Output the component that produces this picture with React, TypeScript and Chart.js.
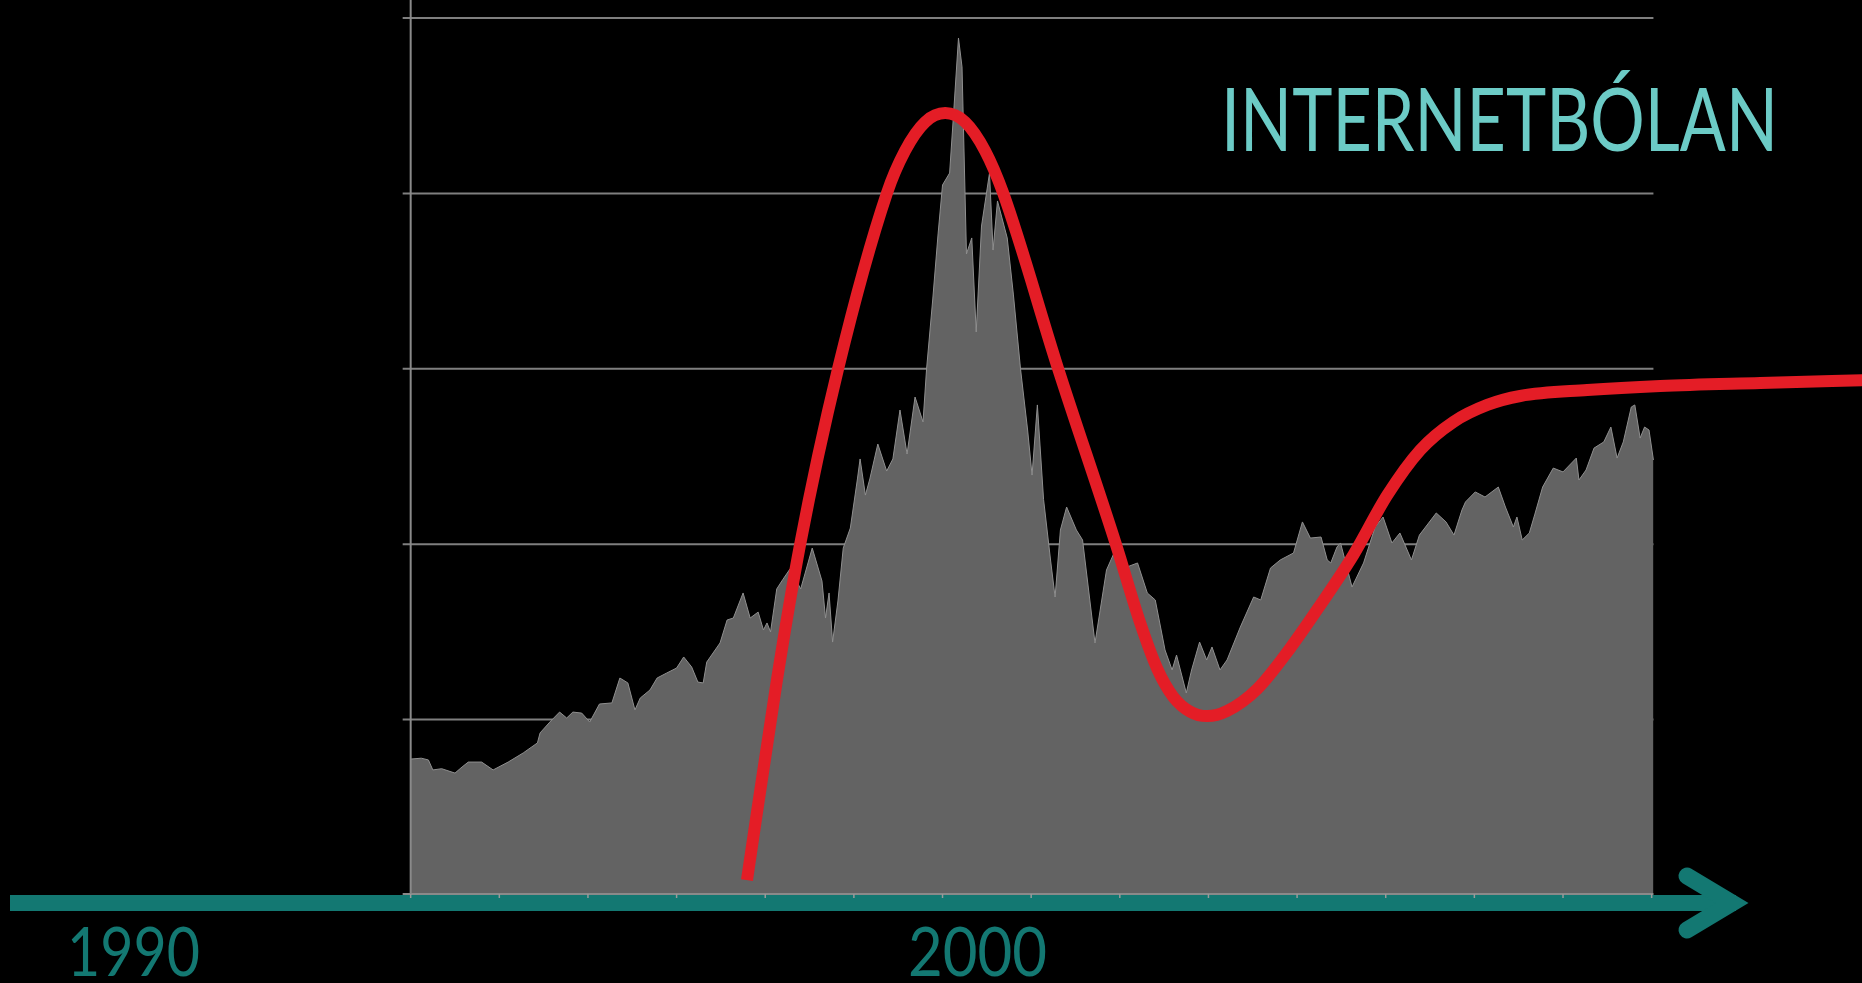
import React, { useEffect, useRef } from "react";
import { Chart, registerables } from "chart.js";

Chart.register(...registerables);

// NASDAQ-like index (decimal year, index value)
const nasdaqYears = [
  1994.0, 1994.12, 1994.2, 1994.25, 1994.35, 1994.5, 1994.58, 1994.65, 1994.8, 1994.93,
  1995.1, 1995.27, 1995.43, 1995.46, 1995.57, 1995.68, 1995.76, 1995.83, 1995.93,
  1996.02, 1996.13, 1996.27, 1996.36, 1996.45, 1996.53, 1996.59, 1996.7, 1996.78, 1996.89,
  1997.0, 1997.08, 1997.17, 1997.24, 1997.3, 1997.34, 1997.49, 1997.57, 1997.64, 1997.75,
  1997.83, 1997.92, 1997.98, 1998.02, 1998.06, 1998.13, 1998.2, 1998.28, 1998.4, 1998.53,
  1998.64, 1998.68, 1998.72, 1998.76, 1998.82, 1998.88, 1998.96,
  1999.04, 1999.07, 1999.13, 1999.18, 1999.27, 1999.37, 1999.44, 1999.52, 1999.6, 1999.69,
  1999.78, 1999.82, 1999.89, 1999.95,
  2000.0, 2000.08, 2000.12, 2000.18, 2000.22, 2000.27, 2000.33, 2000.38, 2000.44, 2000.53,
  2000.57, 2000.62, 2000.73, 2000.8, 2000.88, 2000.96,
  2001.01, 2001.07, 2001.14, 2001.22, 2001.27, 2001.33, 2001.4, 2001.51, 2001.58, 2001.72,
  2001.85, 2002.0, 2002.08, 2002.2, 2002.31, 2002.4, 2002.51, 2002.59, 2002.64, 2002.75,
  2002.81, 2002.9, 2002.98, 2003.04, 2003.13, 2003.21, 2003.36, 2003.51, 2003.59, 2003.7,
  2003.81, 2003.96, 2004.06, 2004.15, 2004.27, 2004.34, 2004.38, 2004.45, 2004.49, 2004.62,
  2004.75, 2004.88, 2004.97, 2005.07, 2005.16, 2005.29, 2005.38, 2005.57, 2005.68, 2005.77,
  2005.86, 2005.9, 2006.01, 2006.12, 2006.27, 2006.35, 2006.44, 2006.48, 2006.54, 2006.62,
  2006.68, 2006.77, 2006.89, 2007.0, 2007.15, 2007.18, 2007.26, 2007.35, 2007.46, 2007.54,
  2007.61, 2007.68, 2007.77, 2007.81, 2007.87, 2007.92, 2007.97, 2008.02,
];
const nasdaqValues = [
  775, 780, 770, 713, 720, 695, 730, 758, 758, 713,
  758, 810, 867, 924, 986, 1043, 1009, 1043, 1037,
  986, 1089, 1095, 1237, 1209, 1055, 1123, 1169, 1237, 1266,
  1294, 1357, 1300, 1214, 1209, 1328, 1437, 1568, 1579, 1722,
  1579, 1613, 1511, 1551, 1500, 1745, 1800, 1859, 1745, 1978,
  1790, 1579, 1722, 1442, 1676, 1978, 2092,
  2372, 2486, 2280, 2372, 2571, 2417, 2486, 2765, 2514, 2839,
  2697, 2999, 3398, 3769,
  4048, 4116, 4418, 4886, 4721, 3655, 3746, 3210, 3814, 4116,
  3677, 3957, 3746, 3421, 2999, 2651,
  2394, 2794, 2255, 1904, 1699, 2081, 2212, 2081, 2024, 1437,
  1853, 2024, 1870, 1893, 1722, 1682, 1397, 1283, 1368, 1152,
  1283, 1442, 1340, 1414, 1283, 1340, 1528, 1699, 1682, 1864,
  1910, 1950, 2127, 2035, 2041, 1910, 1893, 1984, 2007, 1756,
  1893, 2098, 2155, 2007, 2064, 1910, 2052, 2178, 2127, 2052,
  2195, 2241, 2298, 2269, 2326, 2212, 2098, 2155, 2024, 2064,
  2167, 2326, 2434, 2412, 2491, 2366, 2423, 2548, 2583, 2668,
  2491, 2583, 2782, 2794, 2605, 2668, 2651, 2480,
];

// Hype-cycle curve drawn over the index (same axes)
const hypeYears = [
  1997.794, 1998.132, 1998.392, 1998.821, 1999.373, 1999.576, 1999.804, 2000.03, 2000.255,
  2000.481, 2000.684, 2001.305, 2001.959, 2002.23, 2002.422, 2002.603, 2002.795, 2002.986,
  2003.212, 2003.551, 2003.923, 2004.262, 2004.634, 2005.018, 2005.39, 2005.763, 2006.146,
  2006.518, 2007.274, 2008.098, 2009.226, 2010.46,
];
const hypeValues = [
  85, 1226, 1995, 2999, 4002, 4242, 4407, 4458, 4407,
  4242, 4002, 2999, 1995, 1551, 1290, 1130, 1045, 1020,
  1050, 1175, 1408, 1653, 1938, 2280, 2537, 2697, 2794,
  2845, 2879, 2902, 2919, 2936,
];

const gridValues = [1000, 2000, 3000, 4000, 5000];
const tickYears = [1994, 1995, 1996, 1997, 1998, 1999, 2000, 2001, 2002, 2003, 2004, 2005, 2006, 2007, 2008];
const dataStartYear = 1994;
const dataEndYear = 2008.02;
const titleText = "INTERNETBÓLAN";
const leftYearLabel = "1990";
const midYearLabel = "2000";

const W = 1862;
const H = 983;
const FONT = '"Lato", "Noto Sans", "DejaVu Sans", sans-serif';

export default function App() {
  const ref = useRef<HTMLCanvasElement>(null);

  useEffect(() => {
    const canvas = ref.current;
    if (!canvas) return;

    const decor = {
      id: "decor",
      beforeDatasetsDraw(chart: any) {
        const { ctx, scales } = chart;
        const x = scales.x;
        const y = scales.y;
        const x0 = x.getPixelForValue(dataStartYear);
        const x1 = x.getPixelForValue(dataEndYear);
        ctx.save();
        ctx.strokeStyle = "#7f7f7f";
        ctx.lineWidth = 2;
        for (const v of gridValues) {
          const py = y.getPixelForValue(v);
          ctx.beginPath();
          ctx.moveTo(x0 - 8, py);
          ctx.lineTo(x1, py);
          ctx.stroke();
        }
        ctx.restore();
      },
      afterDatasetsDraw(chart: any) {
        const { ctx, scales } = chart;
        const x = scales.x;
        const y = scales.y;
        const x0 = x.getPixelForValue(dataStartYear);
        const x1 = x.getPixelForValue(dataEndYear);
        const yb = y.getPixelForValue(0);
        ctx.save();
        // y axis line and baseline
        ctx.strokeStyle = "#8a8a8a";
        ctx.lineWidth = 2;
        ctx.beginPath();
        ctx.moveTo(x0, 0);
        ctx.lineTo(x0, yb);
        ctx.stroke();
        ctx.beginPath();
        ctx.moveTo(x0 - 8, yb - 1);
        ctx.lineTo(x1, yb - 1);
        ctx.stroke();

        // teal time arrow
        const ay = yb + 8;
        ctx.strokeStyle = "#137872";
        ctx.lineWidth = 16;
        ctx.lineCap = "butt";
        ctx.beginPath();
        ctx.moveTo(10, ay);
        ctx.lineTo(1736, ay);
        ctx.stroke();
        ctx.lineWidth = 17;
        ctx.lineCap = "round";
        ctx.lineJoin = "miter";
        ctx.beginPath();
        ctx.moveTo(1687, ay - 27);
        ctx.lineTo(1732, ay);
        ctx.lineTo(1687, ay + 27);
        ctx.stroke();

        // year ticks
        ctx.strokeStyle = "#9a9a9a";
        ctx.lineWidth = 1.5;
        ctx.lineCap = "butt";
        for (const t of tickYears) {
          const px = x.getPixelForValue(t);
          ctx.beginPath();
          ctx.moveTo(px, yb - 1);
          ctx.lineTo(px, yb + 3);
          ctx.stroke();
        }

        // texts
        ctx.textAlign = "left";
        ctx.textBaseline = "alphabetic";
        ctx.fillStyle = "#6ccbc6";
        ctx.font = `400 87px ${FONT}`;
        ctx.fillText(titleText, 1221, 151, 557);
        ctx.fillStyle = "#137872";
        ctx.font = `400 67px ${FONT}`;
        ctx.fillText(leftYearLabel, 67, 976, 133);
        ctx.fillText(midYearLabel, 908, 976, 139);
        ctx.restore();
      },
    };

    const chart = new Chart(canvas, {
      type: "line",
      data: {
        datasets: [
          {
            label: "Hype",
            data: hypeYears.map((yr, i) => ({ x: yr, y: hypeValues[i] })),
            borderColor: "#e41d26",
            borderWidth: 12,
            borderCapStyle: "butt",
            cubicInterpolationMode: "monotone",
            pointRadius: 0,
            fill: false,
            clip: false as any,
          },
          {
            label: "Index",
            data: nasdaqYears.map((yr, i) => ({ x: yr, y: nasdaqValues[i] })),
            borderColor: "#8f8f8f",
            borderWidth: 1,
            backgroundColor: "#636363",
            fill: "origin",
            pointRadius: 0,
            tension: 0,
          },
        ],
      },
      options: {
        responsive: false,
        animation: false,
        maintainAspectRatio: false,
        layout: { padding: 0 },
        plugins: {
          legend: { display: false },
          tooltip: { enabled: false },
          title: { display: false },
        },
        events: [],
        scales: {
          x: { type: "linear", display: false, min: 1989.367, max: 2010.373 },
          y: { type: "linear", display: false, min: -501.7, max: 5102.6 },
        },
      },
      plugins: [decor],
    });

    return () => chart.destroy();
  }, []);

  return (
    <div
      style={{
        position: "fixed",
        left: 0,
        top: 0,
        width: W,
        height: H,
        background: "#000",
        overflow: "hidden",
      }}
    >
      <canvas ref={ref} width={W} height={H} style={{ display: "block" }} />
    </div>
  );
}
